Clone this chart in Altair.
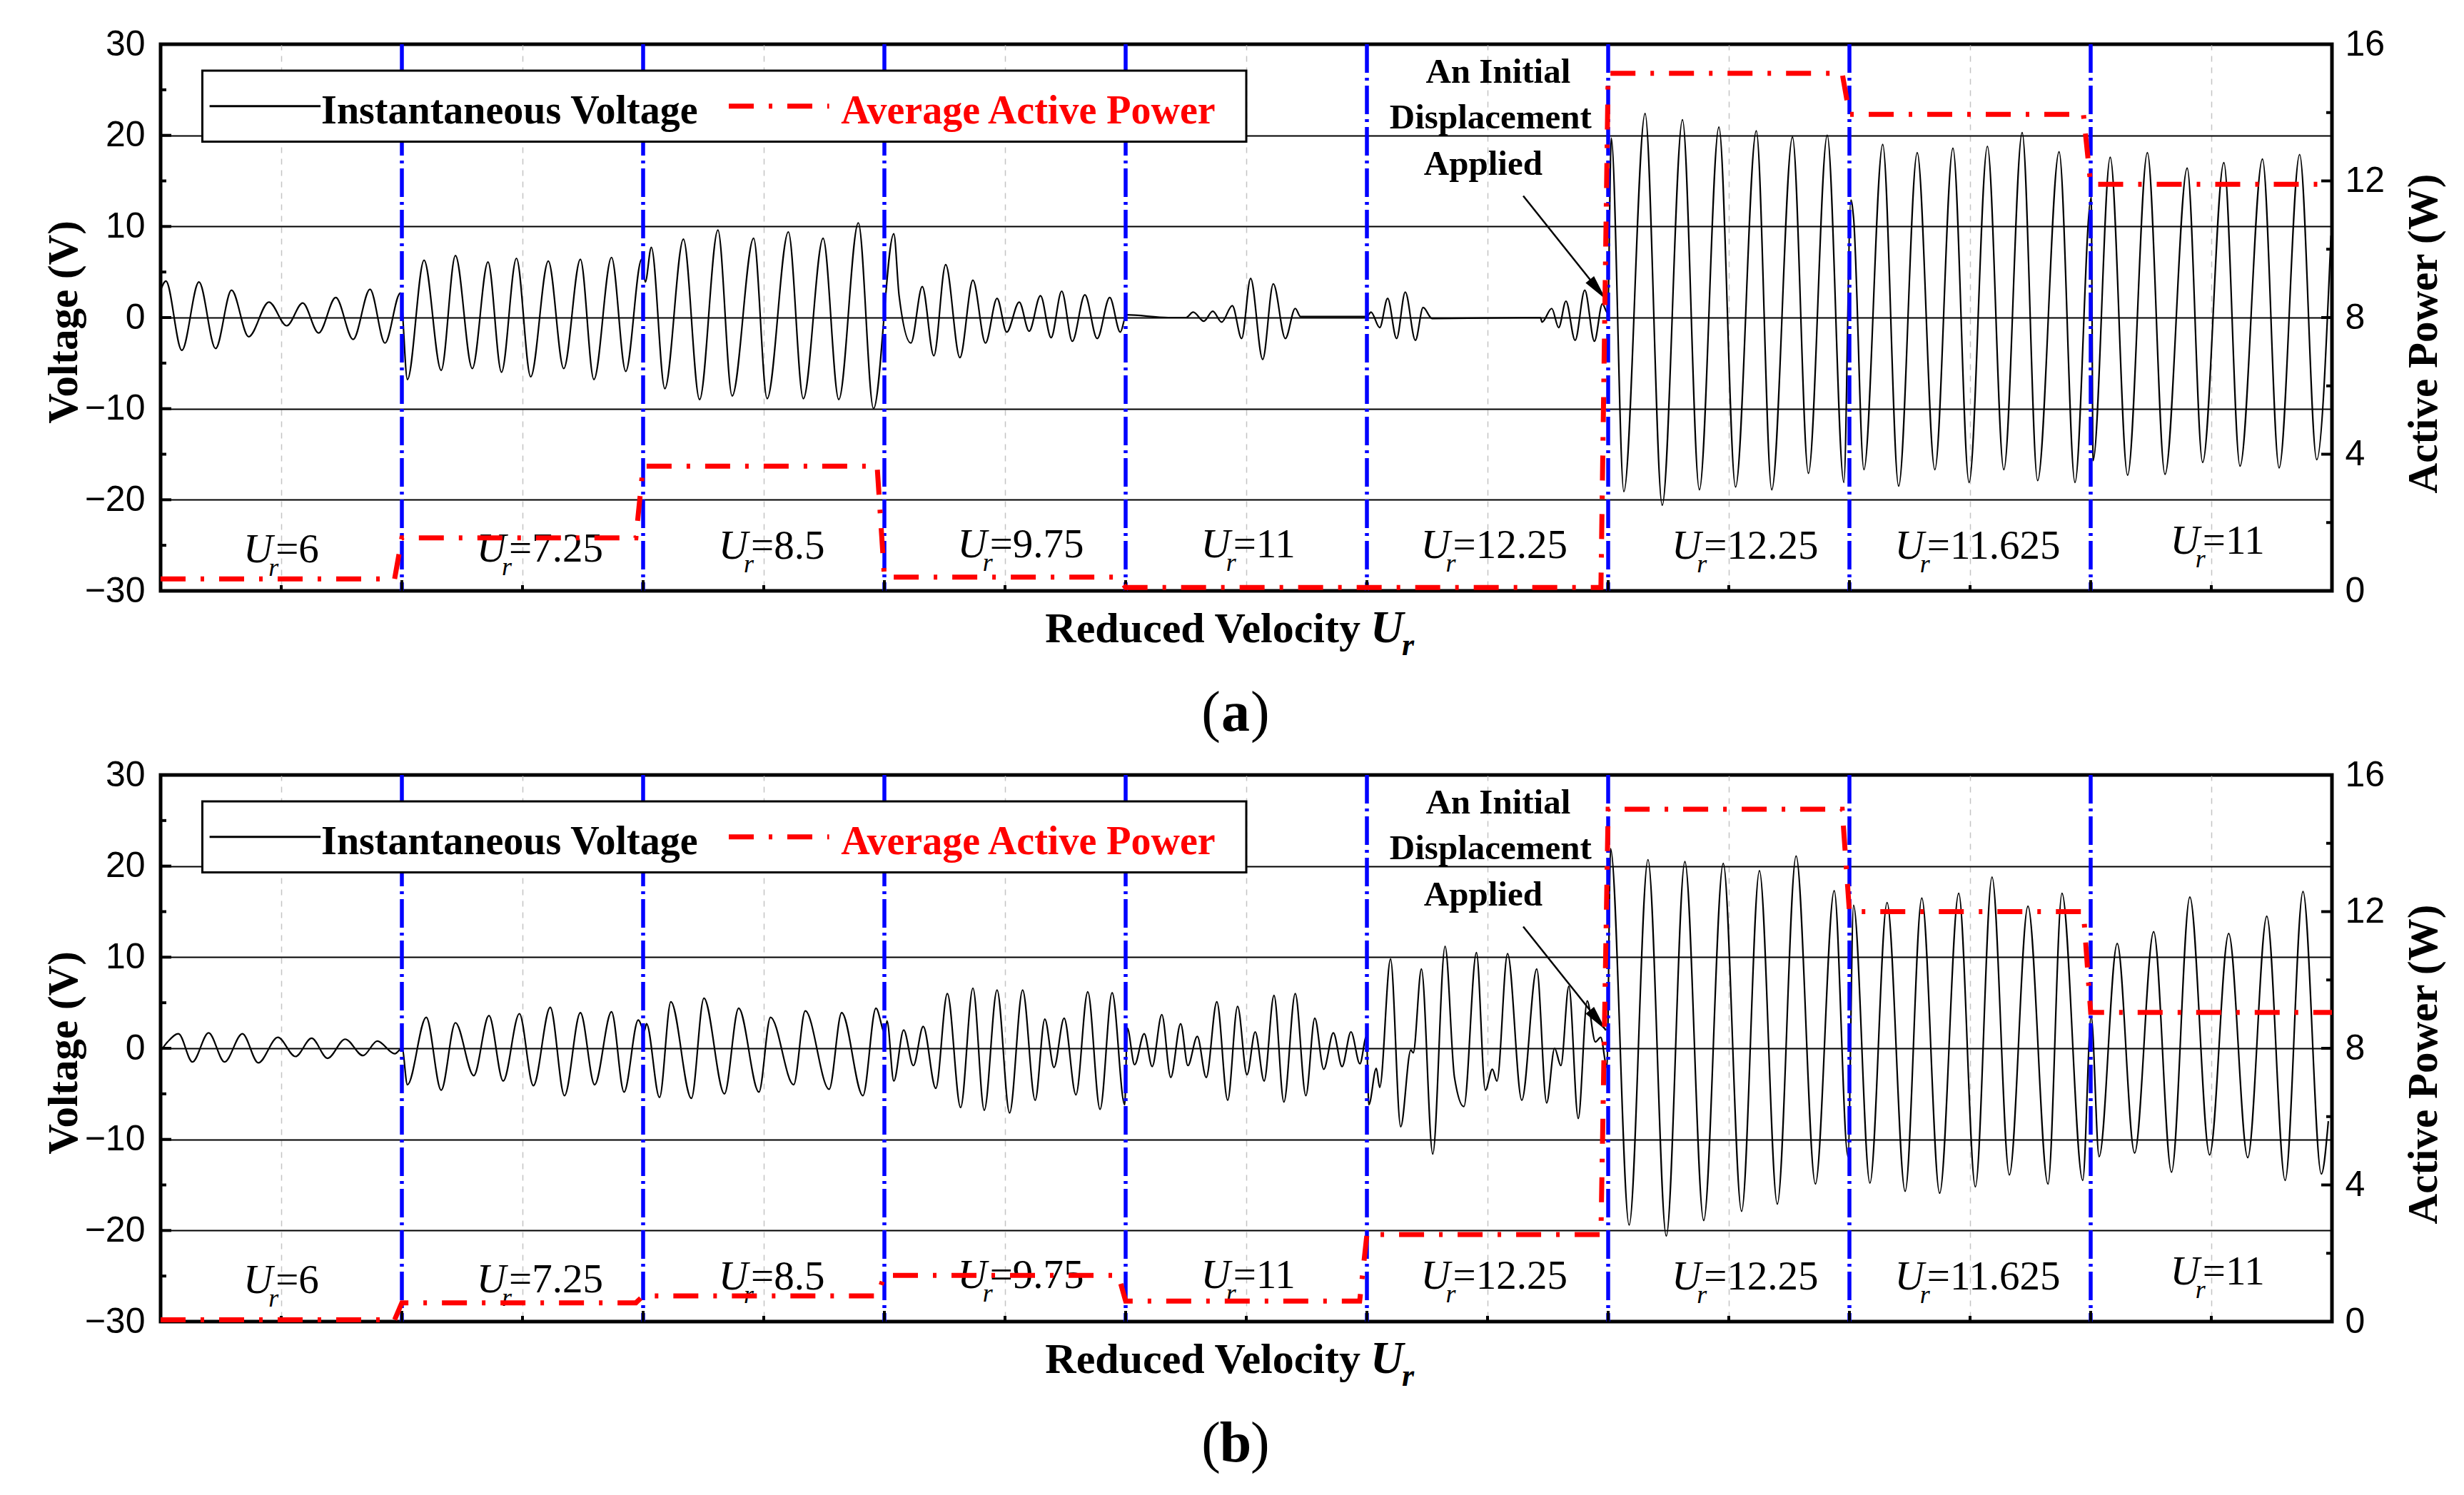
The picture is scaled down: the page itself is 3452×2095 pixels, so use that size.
import altair as alt
import pandas as pd

W, H = 3042, 766
SERIF = "Liberation Serif"
SANS = "Liberation Sans"

# ---------------- data ----------------
seg_labels = ["6", "7.25", "8.5", "9.75", "11", "12.25", "12.25", "11.625", "11"]
seg_bounds = [1, 2, 3, 4, 5, 6, 7, 8]
x_half = [0.5, 1.5, 2.5, 3.5, 4.5, 5.5, 6.5, 7.5, 8.5]

volt_ticks = [-30, -20, -10, 0, 10, 20, 30]
volt_major_in = [-20, -10, 0, 10, 20]
volt_minor = [-25, -15, -5, 5, 15, 25]
power_ticks = [0, 4, 8, 12, 16]
power_major_in = [4, 8, 12]
power_minor = [2, 6, 10, 14]

# average active power per segment (W)
power_a = [0.35, 1.55, 3.65, 0.40, 0.10, 0.10, 15.15, 13.95, 11.9]
power_b = [0.05, 0.55, 0.75, 1.35, 0.60, 2.55, 15.0, 12.0, 9.05]

# instantaneous voltage, panel (a): time position (segment units) and value (V)
volt_a_t = [
    0.000, 0.022, 0.088, 0.159, 0.228, 0.294, 0.365, 0.449, 0.523, 0.589, 0.655, 0.726, 0.798, 0.868, 0.930, 0.994,
    1.023, 1.092, 1.163, 1.222, 1.292, 1.357, 1.413, 1.475, 1.534, 1.607, 1.671, 1.740, 1.796, 1.869, 1.928, 1.994,
    2.009, 2.034, 2.090, 2.167, 2.234, 2.310, 2.369, 2.458, 2.514, 2.602, 2.664, 2.746, 2.811, 2.892, 2.955,
    3.039, 3.061, 3.110, 3.157, 3.205, 3.254, 3.313, 3.367, 3.419, 3.467, 3.507, 3.559, 3.600, 3.647, 3.691, 3.735,
    3.779, 3.831, 3.882, 3.934, 3.978, 4.003,
    4.177, 4.250, 4.280, 4.324, 4.361, 4.398, 4.442, 4.481, 4.518, 4.568, 4.612, 4.662, 4.703, 4.725, 5.000,
    5.017, 5.053, 5.086, 5.123, 5.159, 5.201, 5.233, 5.270, 5.719, 5.726, 5.766, 5.795, 5.825, 5.863, 5.903, 5.943,
    5.976, 5.998,
    6.013, 6.065, 6.153, 6.224, 6.308, 6.378, 6.459, 6.528, 6.614, 6.678, 6.764, 6.830, 6.908, 6.977,
    7.006, 7.017, 7.060, 7.138, 7.204, 7.281, 7.354, 7.429, 7.496, 7.572, 7.640, 7.716, 7.780, 7.869, 7.935, 8.002,
    8.010, 8.081, 8.153, 8.235, 8.308, 8.400, 8.464, 8.552, 8.619, 8.712, 8.781, 8.866, 8.937, 8.996,
]
volt_a_v = [
    3.0, 4.0, -3.6, 3.9, -3.4, 3.0, -2.1, 1.7, -0.9, 1.6, -1.7, 2.2, -2.4, 3.1, -2.8, 2.7,
    -6.8, 6.3, -5.8, 6.8, -5.6, 6.1, -6.0, 6.5, -6.5, 6.2, -5.6, 6.4, -6.8, 6.6, -5.9, 6.4,
    3.9, 7.7, -7.8, 8.6, -9.0, 9.6, -8.6, 8.7, -8.9, 9.4, -8.9, 8.7, -9.0, 10.4, -10.0,
    9.2, 2.4, -2.8, 3.4, -4.2, 5.8, -4.4, 4.1, -2.8, 2.1, -1.6, 1.7, -1.5, 2.4, -2.2, 2.9,
    -2.6, 2.5, -2.3, 2.2, -1.6, 0.3,
    0.0, 0.0, 0.6, -0.4, 0.7, -0.5, 1.3, -2.3, 4.3, -4.6, 3.7, -2.3, 1.0, 0.1, 0.1,
    0.6, -1.1, 2.1, -2.3, 2.8, -2.5, 1.1, -0.1, 0.0, -0.5, 1.0, -1.1, 1.8, -2.5, 3.0, -2.6,
    1.5, 0.5,
    19.7, -19.1, 22.4, -20.6, 21.7, -18.9, 20.9, -18.6, 20.5, -18.9, 19.8, -17.1, 20.0, -18.1,
    12.9, 11.0, -16.7, 19.0, -18.5, 18.1, -16.7, 18.6, -18.1, 18.8, -16.7, 20.3, -17.9, 18.2, -18.1, 13.2,
    -15.7, 17.6, -17.3, 18.1, -17.2, 16.4, -15.9, 17.0, -16.3, 17.4, -16.5, 17.9, -15.6, 9.0,
]

# instantaneous voltage, panel (b)
volt_b_t = [
    0.000, 0.029, 0.074, 0.132, 0.199, 0.265, 0.339, 0.405, 0.486, 0.559, 0.626, 0.692, 0.765, 0.839, 0.898, 0.971,
    1.001,
    1.023, 1.101, 1.163, 1.222, 1.298, 1.361, 1.420, 1.487, 1.545, 1.615, 1.674, 1.740, 1.799, 1.869, 1.921, 1.980,
    2.005,
    2.014, 2.068, 2.115, 2.200, 2.252, 2.337, 2.396, 2.480, 2.528, 2.624, 2.672, 2.771, 2.823, 2.911, 2.965, 3.002,
    3.011, 3.039, 3.080, 3.120, 3.161, 3.213, 3.261, 3.316, 3.367, 3.414, 3.467, 3.519, 3.573, 3.625, 3.665, 3.703,
    3.745, 3.794, 3.843, 3.894, 3.944, 3.996,
    4.007, 4.037, 4.077, 4.110, 4.150, 4.187, 4.228, 4.258, 4.297, 4.334, 4.378, 4.423, 4.464, 4.503, 4.537, 4.574,
    4.615, 4.656, 4.703, 4.747, 4.784, 4.821, 4.861, 4.897, 4.934, 4.971, 4.998,
    5.008, 5.039, 5.053, 5.098, 5.140, 5.182, 5.192, 5.226, 5.273, 5.324, 5.363, 5.402, 5.454, 5.491, 5.520, 5.539,
    5.583, 5.642, 5.704, 5.745, 5.778, 5.804, 5.837, 5.876, 5.913, 5.947, 5.969, 5.995,
    6.010, 6.087, 6.165, 6.241, 6.318, 6.396, 6.477, 6.553, 6.627, 6.701, 6.779, 6.859, 6.937, 6.994,
    7.017, 7.085, 7.156, 7.231, 7.300, 7.374, 7.453, 7.522, 7.591, 7.663, 7.740, 7.823, 7.881, 7.967,
    8.002, 8.035, 8.110, 8.182, 8.261, 8.335, 8.411, 8.493, 8.572, 8.651, 8.730, 8.806, 8.880, 8.956, 8.985,
]
volt_b_v = [
    -0.3, 0.7, 1.6, -1.5, 1.7, -1.5, 1.6, -1.6, 1.2, -0.9, 1.1, -1.1, 1.0, -0.8, 0.8, -0.6,
    0.0,
    -4.0, 3.4, -4.6, 2.8, -3.0, 3.6, -3.6, 3.8, -4.1, 4.5, -5.2, 3.9, -4.0, 4.0, -4.8, 3.1,
    1.9,
    2.7, -5.4, 5.1, -5.5, 5.5, -5.0, 4.4, -4.8, 3.4, -4.0, 4.1, -4.5, 3.9, -5.2, 4.4, 1.7,
    3.0, -3.6, 2.0, -1.9, 2.4, -4.4, 6.0, -6.5, 6.6, -6.8, 6.4, -7.1, 6.4, -5.7, 3.2, -2.1,
    3.3, -5.1, 6.2, -6.7, 6.1, -6.2,
    2.2, -1.8, 1.6, -2.0, 3.7, -3.2, 2.7, -1.9, 1.3, -3.2, 5.1, -5.7, 4.6, -2.9, 1.8, -3.6,
    5.8, -5.9, 6.0, -5.2, 3.3, -2.3, 1.7, -2.0, 1.8, -1.7, 1.3,
    -6.2, -2.2, -4.3, 9.8, -8.6, -0.2, -0.5, 8.7, -11.6, 11.2, -3.2, -6.4, 10.5, -4.6, -2.3, -3.6,
    10.4, -5.7, 8.7, -6.0, 0.0, -1.9, 6.8, -7.7, 5.2, 0.7, 1.2, -2.1,
    21.9, -19.4, 20.7, -20.6, 20.5, -18.9, 20.3, -17.9, 19.5, -17.1, 21.1, -14.9, 17.3, -11.9,
    15.7, -14.8, 16.0, -15.7, 16.5, -15.9, 17.0, -15.2, 18.8, -13.9, 15.6, -14.9, 17.0, -14.5,
    3.5, -11.9, 11.5, -11.5, 12.8, -13.6, 16.6, -11.7, 12.6, -12.0, 14.5, -14.5, 17.2, -13.8, -8.0,
]

# ---------------- annotation layout (segment units / volts) ----------------
label_x = [0.465, 1.432, 2.435, 3.425, 4.434, 5.345, 6.385, 7.31, 8.452]
label_base = [-26.9, -26.8, -26.5, -26.3, -26.3, -26.4, -26.5, -26.5, -25.9]
ann_lines = ["An Initial", "Displacement", "Applied"]
ann_x = [5.544, 5.513, 5.482]
ann_y = [25.8, 20.75, 15.7]
arrow_x = [5.648, 5.991]
arrow_y = [13.36, 1.98]
legend_names = ["Instantaneous Voltage", "Average Active Power"]
legend_colors = ["black", "#FF0000"]

RED_DASH = [35, 21, 5, 21]
BLUE_DASH = [40, 7, 4, 7]


def panel(t, v, power, tag):
    xs = alt.Scale(domain=[0, 9], nice=False, zero=False)
    vs = alt.Scale(domain=[-30, 30], nice=False, zero=False)
    ps = alt.Scale(domain=[0, 16], nice=False, zero=False)

    # auxiliary layers share the scales; their axes are left unspecified so that
    # they merge into the explicitly configured axes of the data layers
    def X(f):
        return alt.X(f + ":Q", scale=xs)

    def Y(f):
        return alt.Y(f + ":Q", scale=vs)

    wave = alt.Chart(pd.DataFrame({"t": t, "v": v})).mark_line(
        color="black", strokeWidth=2.2, interpolate="monotone"
    ).encode(
        x=alt.X("t:Q", scale=xs, axis=alt.Axis(
            values=x_half, labels=False, ticks=False, tickSize=0, domain=False,
            grid=True, gridColor="#c4c4c4", gridDash=[8, 8], gridWidth=1.5, title=None)),
        y=alt.Y("v:Q", scale=vs, axis=alt.Axis(
            values=volt_ticks, grid=True, gridColor="black", gridWidth=2, gridOpacity=1,
            ticks=False, tickSize=0, domain=False,
            labelFont=SANS, labelFontSize=50, labelColor="black", labelPadding=22,
            title="Voltage (V)", titleFont=SERIF, titleFontSize=59, titleFontWeight="bold",
            titleColor="black", titleAngle=270, titleX=-136, titleY=389,
            titleAlign="center", titleBaseline="middle")),
    )

    blue = alt.Chart(pd.DataFrame({"t": seg_bounds})).mark_rule(
        color="#0000FF", strokeWidth=5.5, strokeDash=BLUE_DASH
    ).encode(x=X("t"))

    lt_major = alt.Chart(pd.DataFrame({"v": volt_major_in})).mark_rule(color="black", strokeWidth=4).encode(
        y=Y("v"), x=alt.value(0), x2=alt.value(15))
    lt_minor = alt.Chart(pd.DataFrame({"v": volt_minor})).mark_rule(color="black", strokeWidth=4).encode(
        y=Y("v"), x=alt.value(0), x2=alt.value(8))
    bt_major = alt.Chart(pd.DataFrame({"t": seg_bounds})).mark_rule(color="black", strokeWidth=4).encode(
        x=X("t"), y=alt.value(H - 15), y2=alt.value(H))
    bt_minor = alt.Chart(pd.DataFrame({"t": x_half})).mark_rule(color="black", strokeWidth=4).encode(
        x=X("t"), y=alt.value(H - 8), y2=alt.value(H))

    lab_df = pd.DataFrame({"t": label_x, "v": label_base, "eq": ["=" + s for s in seg_labels]})
    lab_U = alt.Chart(lab_df).mark_text(
        text="U", font=SERIF, fontSize=57, fontStyle="italic", align="right",
        baseline="alphabetic", color="black").encode(x=X("t"), y=Y("v"))
    lab_r = alt.Chart(lab_df).mark_text(
        text="r", font=SERIF, fontSize=36, fontStyle="italic", align="left",
        baseline="alphabetic", color="black", dx=-6, dy=19).encode(x=X("t"), y=Y("v"))
    lab_eq = alt.Chart(lab_df).mark_text(
        font=SERIF, fontSize=57, align="left", baseline="alphabetic", color="black", dx=4
    ).encode(x=X("t"), y=Y("v"), text="eq:N")

    ann = alt.Chart(pd.DataFrame({"t": ann_x, "v": ann_y, "s": ann_lines})).mark_text(
        font=SERIF, fontSize=49, fontWeight="bold", align="center", baseline="alphabetic", color="black"
    ).encode(x=X("t"), y=Y("v"), text="s:N")
    arr_line = alt.Chart(pd.DataFrame({"t": arrow_x, "v": arrow_y})).mark_line(
        color="black", strokeWidth=2.5).encode(x=X("t"), y=Y("v"))
    head = alt.Chart(pd.DataFrame({"t": arrow_x[1:], "v": arrow_y[1:]})).mark_point(
        shape="M0,0L-0.42,-2L0.42,-2Z", filled=True, size=1300, angle=321,
        color="black", opacity=1, strokeWidth=0).encode(x=X("t"), y=Y("v"))

    leg_box = alt.Chart(pd.DataFrame({"t": [0.173], "t2": [4.5], "v": [27.1], "v2": [19.3]})).mark_rect(
        fill="white", stroke="black", strokeWidth=3
    ).encode(x=X("t"), x2="t2:Q", y=Y("v"), y2="v2:Q")
    leg_black = alt.Chart(pd.DataFrame({"t": [0.203], "t2": [0.663], "v": [23.2]})).mark_rule(
        color="black", strokeWidth=3).encode(x=X("t"), x2="t2:Q", y=Y("v"))
    leg_red = alt.Chart(pd.DataFrame({"t": [2.355], "t2": [2.771], "v": [23.2]})).mark_rule(
        color="#FF0000", strokeWidth=7, strokeDash=RED_DASH).encode(x=X("t"), x2="t2:Q", y=Y("v"))
    leg_txt = alt.Chart(pd.DataFrame({"t": [0.666, 2.82], "v": [21.3, 21.3], "s": legend_names,
                                      "c": legend_colors})).mark_text(
        font=SERIF, fontSize=56, fontWeight="bold", align="left", baseline="alphabetic"
    ).encode(x=X("t"), y=Y("v"), text="s:N", color=alt.Color("c:N", scale=None))

    one = pd.DataFrame({"k": [0]})
    xt1 = alt.Chart(one).mark_text(text="Reduced Velocity", font=SERIF, fontSize=60, fontWeight="bold",
                                   align="right", baseline="alphabetic", color="black").encode(
        x=alt.value(W / 2 + 160), y=alt.value(H + 72))
    xt2 = alt.Chart(one).mark_text(text="U", font=SERIF, fontSize=64, fontWeight="bold", fontStyle="italic",
                                   align="left", baseline="alphabetic", color="black").encode(
        x=alt.value(W / 2 + 174), y=alt.value(H + 72))
    xt3 = alt.Chart(one).mark_text(text="r", font=SERIF, fontSize=44, fontWeight="bold", fontStyle="italic",
                                   align="left", baseline="alphabetic", color="black").encode(
        x=alt.value(W / 2 + 218), y=alt.value(H + 90))
    cx = W / 2 - 15
    cap1 = alt.Chart(one).mark_text(text="(", font=SERIF, fontSize=80, align="right",
                                    baseline="alphabetic", color="black").encode(
        x=alt.value(cx - 21), y=alt.value(H + 196))
    cap2 = alt.Chart(one).mark_text(text=tag, font=SERIF, fontSize=80, fontWeight="bold", align="center",
                                    baseline="alphabetic", color="black").encode(
        x=alt.value(cx), y=alt.value(H + 196))
    cap3 = alt.Chart(one).mark_text(text=")", font=SERIF, fontSize=80, align="left",
                                    baseline="alphabetic", color="black").encode(
        x=alt.value(cx + 21), y=alt.value(H + 196))

    volt_group = alt.layer(wave, blue, lt_major, lt_minor, bt_major, bt_minor,
                           lab_U, lab_r, lab_eq, ann, arr_line, head,
                           leg_box, leg_black, leg_red, leg_txt,
                           xt1, xt2, xt3, cap1, cap2, cap3)

    pt, pp = [], []
    for i, p in enumerate(power):
        pt += [float(i), (i + 0.97) if i < 8 else 9.0]
        pp += [p, p]
    pline = alt.Chart(pd.DataFrame({"t": pt, "p": pp})).mark_line(
        color="#FF0000", strokeWidth=7, strokeDash=RED_DASH
    ).encode(
        x=alt.X("t:Q", scale=xs),
        y=alt.Y("p:Q", scale=ps, axis=alt.Axis(
            orient="right", values=power_ticks, grid=False, ticks=False, tickSize=0, domain=False,
            labelFont=SANS, labelFontSize=50, labelColor="black", labelPadding=18,
            title="Active Power (W)", titleFont=SERIF, titleFontSize=59, titleFontWeight="bold",
            titleColor="black", titleAngle=270, titleX=128, titleY=405,
            titleAlign="center", titleBaseline="middle")),
    )
    rt_major = alt.Chart(pd.DataFrame({"p": power_major_in})).mark_rule(color="black", strokeWidth=4).encode(
        y=alt.Y("p:Q", scale=ps), x=alt.value(W - 15), x2=alt.value(W))
    rt_minor = alt.Chart(pd.DataFrame({"p": power_minor})).mark_rule(color="black", strokeWidth=4).encode(
        y=alt.Y("p:Q", scale=ps), x=alt.value(W - 8), x2=alt.value(W))
    power_group = alt.layer(pline, rt_major, rt_minor)

    return alt.layer(volt_group, power_group).resolve_scale(y="independent").properties(width=W, height=H)


chart = alt.vconcat(
    panel(volt_a_t, volt_a_v, power_a, "a"),
    panel(volt_b_t, volt_b_v, power_b, "b"),
    spacing=15,
).properties(
    background="white",
    padding={"left": 49, "top": 26, "right": 10, "bottom": 10},
).configure_view(stroke="black", strokeWidth=5)

chart.save("out.html", embed_options={"renderer": "svg", "actions": False})
